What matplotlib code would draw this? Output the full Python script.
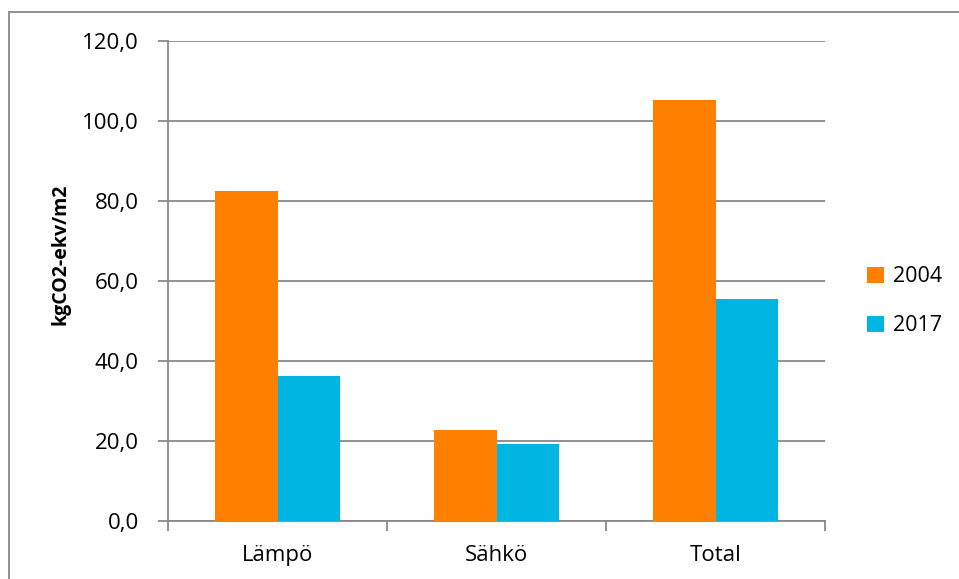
import matplotlib
matplotlib.use("Agg")
import matplotlib.pyplot as plt
import numpy as np
from matplotlib.patches import Rectangle

categories = ["Lämpö", "Sähkö", "Total"]
series_names = ["2004", "2017"]
values_2004 = [82.6, 22.7, 105.2]
values_2017 = [36.2, 19.2, 55.5]
ytick_values = [0, 20, 40, 60, 80, 100, 120]
ytick_labels = ["0,0", "20,0", "40,0", "60,0", "80,0", "100,0", "120,0"]
ylabel = "kgCO2-ekv/m2"

plt.rcParams['font.family'] = ['Open Sans', 'DejaVu Sans']

W, H = 959, 579
fig = plt.figure(figsize=(W / 100, H / 100), dpi=100)
ax = fig.add_axes([168 / W, 1 - 521 / H, (825 - 168) / W, (521 - 41) / H])

colors = ["#FF8000", "#00B5E2"]
grid_c = "#888888"
x = np.arange(len(categories))
w = 1 / 3.5
ax.bar(x - w / 2, values_2004, width=w, color=colors[0], label=series_names[0], zorder=3)
ax.bar(x + w / 2, values_2017, width=w, color=colors[1], label=series_names[1], zorder=3)

ax.set_xlim(-0.5, len(categories) - 0.5)
ax.set_ylim(0, 120)
ax.set_yticks(ytick_values)
ax.set_yticklabels(ytick_labels, fontsize=16)
ax.set_xticks(x)
ax.set_xticklabels(categories, fontsize=16)
ax.tick_params(axis='x', length=0, pad=17)
ax.set_xticks(np.arange(len(categories) + 1) - 0.5, minor=True)
ax.tick_params(axis='x', which='minor', length=7, color=grid_c, width=1.3)
ax.tick_params(axis='y', length=7, color=grid_c, width=1.3, pad=14)

ax.grid(axis='y', color=grid_c, linewidth=1.3, zorder=0)
ax.set_axisbelow(True)
for s in ['top', 'right']:
    ax.spines[s].set_visible(False)
for s in ['left', 'bottom']:
    ax.spines[s].set_color(grid_c)
    ax.spines[s].set_linewidth(1.3)

fig.text(60 / W, 1 - 254 / H, ylabel, rotation=90, fontsize=14, fontweight='bold',
         ha='center', va='center')

leg = fig.legend(loc='upper left', bbox_to_anchor=(848 / W, 1 - 247 / H), frameon=False,
                 fontsize=15.5, handlelength=0.75, handleheight=0.75, handletextpad=0.45,
                 labelspacing=1.3)

fig.patches.append(Rectangle((9 / W, -0.1), 1.2, 1 - 12 / H + 0.1, transform=fig.transFigure,
                             fill=False, edgecolor="#888888", linewidth=1.3))

fig.savefig("out.png", dpi=100)
